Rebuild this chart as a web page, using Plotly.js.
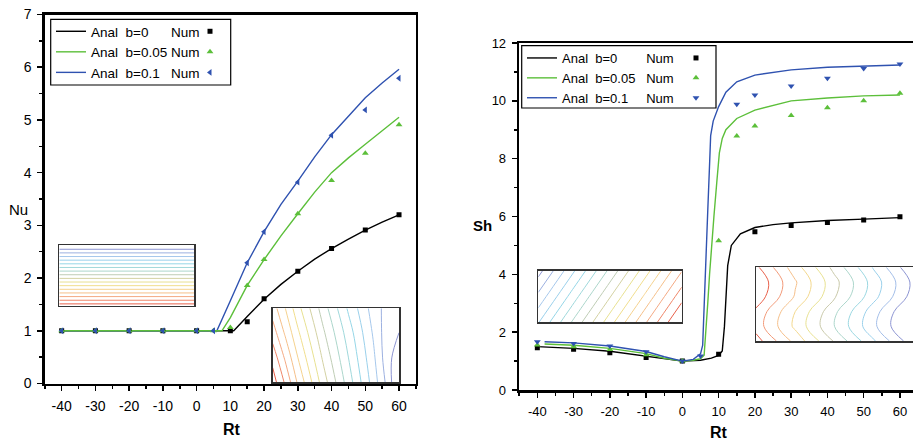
<!DOCTYPE html>
<html><head><meta charset="utf-8">
<script src="https://cdn.plot.ly/plotly-3.0.1.min.js"></script>
<style>html,body{margin:0;padding:0;background:#fff}#chart{width:913px;height:443px}</style>
</head><body><div id="chart"></div>
<script>
// ---------- Left chart: Nu vs Rt ----------
const rtNuAnal0 = [-40,-30,-20,-10,0,5,10,11,15,20,25,30,35,40,45,50,55,60];
const nuAnal0   = [1,1,1,1,1,1,1,1,1.27,1.6,1.88,2.13,2.36,2.56,2.74,2.91,3.06,3.2];
const rtNuAnal005 = [-40,-30,-20,-10,0,5,7.5,10,15,20,25,30,35,40,45,50,55,60];
const nuAnal005   = [1,1,1,1,1,1,1,1.25,1.86,2.35,2.8,3.22,3.63,4.0,4.28,4.54,4.8,5.05];
const rtNuAnal01 = [-40,-30,-20,-10,0,5,6,10,15,20,25,30,35,40,45,50,55,60];
const nuAnal01   = [1,1,1,1,1,1,1,1.57,2.29,2.88,3.4,3.84,4.3,4.72,5.08,5.42,5.7,5.96];

const rtNuNum0 = [-40,-30,-20,-10,0,10,15,20,30,40,50,60];
const nuNum0   = [1,1,1,1,1,1,1.17,1.61,2.13,2.56,2.91,3.2];
const rtNuNum005 = [-40,-30,-20,-10,0,5,10,15,20,30,40,50,60];
const nuNum005   = [1,1,1,1,1,1,1.06,1.86,2.35,3.22,3.85,4.37,4.91];
const rtNuNum01 = [-40,-30,-20,-10,0,5,15,20,30,40,50,60];
const nuNum01   = [1,1,1,1,1,1,2.29,2.88,3.82,4.71,5.19,5.79];

// ---------- Right chart: Sh vs Rt ----------
const rtShAnal0 = [-40,-30,-20,-10,-5,0,5,8,10,11,11.6,12,12.5,13.5,16,20,25,30,40,50,60];
const shAnal0   = [1.5,1.44,1.34,1.17,1.06,1.0,1.03,1.1,1.2,1.35,2.2,3.2,4.3,5.0,5.4,5.62,5.72,5.78,5.86,5.91,5.96];
const rtShAnal005 = [-38,-30,-20,-10,-5,0,3,5,6,6.5,7,7.5,8,8.7,9.5,10.2,11,12,15,20,30,40,50,60];
const shAnal005   = [1.59,1.55,1.44,1.26,1.1,1.0,1.03,1.08,1.2,2.0,3.0,4.0,5.0,6.0,7.2,8.2,8.7,9.0,9.39,9.68,10.0,10.1,10.17,10.2];
const rtShAnal01 = [-38,-30,-20,-10,-5,0,3,5,5.6,6,6.5,7,7.5,7.8,8.5,10,12,15,20,30,40,50,60];
const shAnal01   = [1.67,1.63,1.52,1.33,1.15,1.0,1.06,1.25,1.55,3.0,5.0,6.2,7.8,8.8,9.3,9.8,10.3,10.66,10.89,11.07,11.16,11.21,11.24];

const rtShNum0 = [-40,-30,-20,-10,0,10,20,30,40,50,60];
const shNum0   = [1.46,1.41,1.29,1.12,1.0,1.24,5.47,5.69,5.79,5.88,5.99];
const rtShNum005 = [-40,-30,-20,-10,0,10,15,20,30,40,50,60];
const shNum005   = [1.56,1.5,1.4,1.22,1.0,5.16,8.78,9.13,9.49,9.76,10.0,10.26];
const rtShNum01 = [-40,-30,-20,-10,0,5,15,20,30,40,50,60];
const shNum01   = [1.67,1.61,1.52,1.32,1.0,1.18,9.88,10.2,10.51,10.78,11.12,11.27];

// ---------- Ticks ----------
const rtTickVals = [-40,-30,-20,-10,0,10,20,30,40,50,60];
const rtTickText = ['-40','-30','-20','-10','0','10','20','30','40','50','60'];
const nuTickVals = [0,1,2,3,4,5,6,7];
const nuTickText = ['0','1','2','3','4','5','6','7'];
const shTickVals = [0,2,4,6,8,10,12];
const shTickText = ['0','2','4','6','8','10','12'];

// ---------- Legend labels ----------
const sp = '\u00a0';
const legLeft  = ['Anal'+sp+sp+'b=0'+sp.repeat(6)+'Num', 'Anal'+sp+sp+'b=0.05'+sp+'Num', 'Anal'+sp+sp+'b=0.1'+sp.repeat(3)+'Num'];
const legRight = ['Anal'+sp+sp+'b=0'+sp.repeat(8)+'Num', 'Anal'+sp+sp+'b=0.05'+sp+sp+sp+'Num', 'Anal'+sp+sp+'b=0.1'+sp.repeat(5)+'Num'];

// ---------- Inset contour fields (estimated) ----------
const insetAx = [0,1], insetAy = [0,1], insetAz = [[0,0],[1,1]];
const insetBx = [0,0.1,0.2,0.4,0.6,0.8,0.9,1], insetBy = [0,0.33,0.67,1];
const insetBz = [[0.00,0.10,0.22,0.42,0.60,0.78,0.88,1.00],
                 [0.05,0.16,0.27,0.46,0.63,0.80,0.90,0.97],
                 [0.12,0.22,0.32,0.50,0.66,0.82,0.90,0.93],
                 [0.18,0.27,0.37,0.54,0.70,0.84,0.89,0.90]];
const insetCx = [0,0.25,0.5,0.75,1], insetCy = [0,0.5,1];
const insetCz = [[0,0.25,0.5,0.75,1],[-0.125,0.125,0.375,0.625,0.875],[-0.25,0,0.25,0.5,0.75]];
const insetDx = [0,0.25,0.5,0.75,1], insetDy = [0,0.2,0.4,0.6,0.8,1];
const insetDz = [[-0.02,0.23,0.48,0.73,0.98],
                 [0.06,0.31,0.56,0.81,1.06],
                 [0.04,0.29,0.54,0.79,1.04],
                 [-0.04,0.21,0.46,0.71,0.96],
                 [-0.06,0.19,0.44,0.69,0.94],
                 [0.00,0.25,0.50,0.75,1.00]];

const W = 913, H = 443;
const px = x => x / W, py = y => 1 - y / H;
const cBlack = '#000000', cGreen = '#5cbf3a', cBlue = '#2f52b0';
const FONT = 'Liberation Sans, Arial, sans-serif';

function line(x, y, color, name, xa, ya, leg, rank) {
  return {type:'scatter', mode:'lines', x, y, name, xaxis:xa, yaxis:ya, legend:leg, legendrank:rank,
          line:{color, width:1.4}, hoverinfo:'skip'};
}
function pts(x, y, color, symbol, size, xa, ya, leg, rank) {
  return {type:'scatter', mode:'markers', x, y, name:sp, xaxis:xa, yaxis:ya, legend:leg, legendrank:rank,
          marker:{color, symbol, size, line:{width:0}}, hoverinfo:'skip'};
}
const pastel = [[0,'#e8604a'],[0.12,'#f4a582'],[0.25,'#f6cf8e'],[0.38,'#eee68c'],[0.5,'#c9c9aa'],
                [0.62,'#a6d9d2'],[0.75,'#92d6ea'],[0.88,'#a8c6ec'],[1,'#8c94d2']];
function inset(x, y, z, xa, ya, start, end, size, zmin, zmax, rev) {
  return {type:'contour', x, y, z, xaxis:xa, yaxis:ya, showscale:false, showlegend:false,
          colorscale:pastel, reversescale:!!rev, zmin, zmax, hoverinfo:'skip',
          contours:{coloring:'lines', start, end, size}, line:{width:1, smoothing:1}};
}

const traces = [
  line(rtNuAnal0, nuAnal0, cBlack, legLeft[0], 'x', 'y', 'legend', 1),
  line(rtNuAnal01, nuAnal01, cBlue, legLeft[2], 'x', 'y', 'legend', 3),
  line(rtNuAnal005, nuAnal005, cGreen, legLeft[1], 'x', 'y', 'legend', 2),
  pts(rtNuNum0, nuNum0, cBlack, 'square', 5, 'x', 'y', 'legend3', 1),
  pts(rtNuNum005, nuNum005, cGreen, 'triangle-up', 6, 'x', 'y', 'legend3', 2),
  pts(rtNuNum01, nuNum01, cBlue, 'triangle-left', 6, 'x', 'y', 'legend3', 3),

  line(rtShAnal0, shAnal0, cBlack, legRight[0], 'x2', 'y2', 'legend2', 1),
  line(rtShAnal005, shAnal005, cGreen, legRight[1], 'x2', 'y2', 'legend2', 2),
  line(rtShAnal01, shAnal01, cBlue, legRight[2], 'x2', 'y2', 'legend2', 3),
  pts(rtShNum0, shNum0, cBlack, 'square', 5, 'x2', 'y2', 'legend4', 1),
  pts(rtShNum005, shNum005, cGreen, 'triangle-up', 6, 'x2', 'y2', 'legend4', 2),
  pts(rtShNum01, shNum01, cBlue, 'triangle-down', 6, 'x2', 'y2', 'legend4', 3),

  inset(insetAx, insetAy, insetAz, 'x3', 'y3', 0.03, 0.97, 0.06, 0, 1, false),
  inset(insetBx, insetBy, insetBz, 'x4', 'y4', 0.03, 0.97, 0.06, 0, 1, false),
  inset(insetCx, insetCy, insetCz, 'x5', 'y5', -0.22, 0.97, 0.075, -0.25, 1, true),
  inset(insetDx, insetDy, insetDz, 'x6', 'y6', 0.02, 1.0, 0.09, -0.3, 1.05, false)
];

function mainX(domain, range, anchor, size) {
  return {domain, range, anchor, tickmode:'array', tickvals:rtTickVals, ticktext:rtTickText,
    ticks:'outside', ticklen:5, tickwidth:1.5, tickcolor:'#000', showline:true, linewidth:2.5, linecolor:'#000',
    mirror:true, showgrid:false, zeroline:false, tickfont:{size, family:FONT}, ticklabelstandoff:3,
    minor:{dtick:5, tick0:0, ticks:'outside', ticklen:3, tickwidth:1.5, tickcolor:'#000', showgrid:false}};
}
function mainY(domain, range, anchor, vals, text, minorD, mirror, size) {
  return {domain, range, anchor, tickmode:'array', tickvals:vals, ticktext:text,
    ticks:'outside', ticklen:5, tickwidth:1.5, tickcolor:'#000', showline:true, linewidth:2.5, linecolor:'#000',
    mirror, showgrid:false, zeroline:false, tickfont:{size, family:FONT}, ticklabelstandoff:3,
    minor:{dtick:minorD, tick0:0, ticks:'outside', ticklen:3, tickwidth:1.5, tickcolor:'#000', showgrid:false}};
}
function insetAxis(domain, anchor) {
  return {domain, anchor, range:[0,1], showline:true, mirror:true, linecolor:'#333', linewidth:1.5,
    showticklabels:false, ticks:'', showgrid:false, zeroline:false};
}
function legendBox(x0, y0, x1, y1) {
  return {type:'rect', xref:'paper', yref:'paper', x0:px(x0), x1:px(x1), y0:py(y0), y1:py(y1),
          line:{color:'#000', width:1.2}, fillcolor:'rgba(0,0,0,0)'};
}
function leg(x, y, size) {
  return {x:px(x), y:py(y), xanchor:'left', yanchor:'top', bgcolor:'rgba(0,0,0,0)', borderwidth:0,
          font:{size, family:FONT, color:'#000'}, itemwidth:30, tracegroupgap:0, traceorder:'normal'};
}
function ann(text, x, y, size, bold) {
  return {text: bold ? '<b>'+text+'</b>' : text, xref:'paper', yref:'paper', x:px(x), y:py(y),
          xanchor:'center', yanchor:'middle', showarrow:false, font:{size, family:FONT, color:'#000'}};
}

const layout = {
  width:W, height:H, margin:{l:0, r:0, t:0, b:0}, paper_bgcolor:'#fff', plot_bgcolor:'rgba(0,0,0,0)',
  font:{family:FONT, color:'#000'}, showlegend:true,
  xaxis: mainX([px(44.8), px(415.9)], [-45, 65], 'y', 14),
  yaxis: mainY([py(383.5), py(14.5)], [0, 7], 'x', nuTickVals, nuTickText, 0.5, true, 14),
  xaxis2: mainX([px(519.2), 1], [-45, 63.6], 'y2', 13),
  yaxis2: mainY([py(390), py(43)], [0, 12], 'x2', shTickVals, shTickText, 1, false, 13),
  xaxis3: insetAxis([px(59.3), px(194.3)], 'y3'), yaxis3: insetAxis([py(305.7), py(245)], 'x3'),
  xaxis4: insetAxis([px(272.7), px(399)], 'y4'), yaxis4: insetAxis([py(382.3), py(308.3)], 'x4'),
  xaxis5: insetAxis([px(538.3), px(681.7)], 'y5'), yaxis5: insetAxis([py(322.3), py(270.7)], 'x5'),
  xaxis6: insetAxis([px(756), 1], 'y6'), yaxis6: insetAxis([py(341), py(267.3)], 'x6'),
  legend: leg(51, 16, 13.5),
  legend3: leg(190, 16, 13.5),
  legend2: leg(522, 43, 13),
  legend4: leg(676, 43, 13),
  shapes: [legendBox(50.7, 19.3, 230.7, 85), legendBox(521.7, 45.7, 716, 108)],
  annotations: [
    ann('Nu', 18.5, 209, 15, false),
    ann('Rt', 231.5, 429, 16, true),
    ann('Sh', 482, 226, 15, true),
    ann('Rt', 719, 432, 16, true)
  ]
};

Plotly.newPlot('chart', traces, layout, {staticPlot:true, displayModeBar:false});
</script></body></html>
